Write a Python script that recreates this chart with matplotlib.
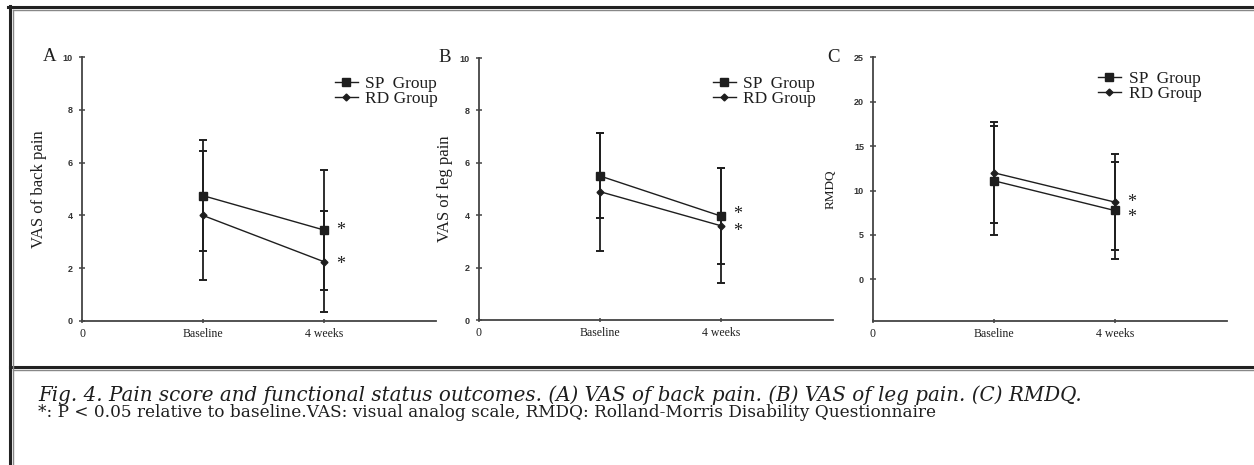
import matplotlib
matplotlib.use("Agg")
import matplotlib.pyplot as plt
from matplotlib.lines import Line2D

# time points
tick_labels = ["0", "Baseline", "4 weeks"]
time_x = [1, 2]

# A: VAS of back pain (mean, SD)
back_sp = [4.75, 3.45]
back_sp_sd = [2.1, 2.27]
back_rd = [4.0, 2.25]
back_rd_sd = [2.45, 1.9]

# B: VAS of leg pain
leg_sp = [5.5, 3.97]
leg_sp_sd = [1.62, 1.82]
leg_rd = [4.9, 3.6]
leg_rd_sd = [2.25, 2.2]

# C: RMDQ
rmdq_sp = [11.1, 7.75]
rmdq_sp_sd = [6.15, 5.5]
rmdq_rd = [12.0, 8.7]
rmdq_rd_sd = [5.7, 5.4]

panels = [
    ("A", "VAS of back pain", back_sp, back_sp_sd, back_rd, back_rd_sd),
    ("B", "VAS of leg pain", leg_sp, leg_sp_sd, leg_rd, leg_rd_sd),
    ("C", "RMDQ", rmdq_sp, rmdq_sp_sd, rmdq_rd, rmdq_rd_sd),
]

SERIF = ["Liberation Serif", "DejaVu Serif"]
INK = "#1e1e1e"
W, H = 1254, 465

fig = plt.figure(figsize=(12.54, 4.65), dpi=100)
fig.patch.set_facecolor("white")

# axes boxes in pixels: left, right, top, bottom
boxes = [(82, 436, 57, 321), (479, 833, 58, 320), (873, 1227, 57.3, 320.7)]
letter_pos = [(50, 56), (445, 58), (834, 57)]
ylabel_x = [-0.099, -0.074, -0.1025]
legend_anchor = [(0.715, 0.93), (0.661, 0.933), (0.636, 0.95)]
# vertical nudge (points) of the stars for SP / RD so they do not collide
star_nudge = [(1.5, 0), (3, -2), (-3, 1.5)]

for i, (letter, ylab, sp, sp_sd, rd, rd_sd) in enumerate(panels):
    l, r, t, b = boxes[i]
    ax = fig.add_axes([l / W, 1 - b / H, (r - l) / W, (b - t) / H])

    ax.errorbar(time_x, sp, yerr=sp_sd, color=INK, lw=1.0, marker="s", ms=6,
                elinewidth=1.3, capsize=3, capthick=1.4)
    ax.errorbar(time_x, rd, yerr=rd_sd, color=INK, lw=1.0, marker="D", ms=3.5,
                elinewidth=1.3, capsize=3, capthick=1.4)

    # significance stars next to the 4-week points
    for val, dy in zip((sp[1], rd[1]), star_nudge[i]):
        ax.annotate("*", xy=(time_x[1], val), xytext=(12, -2 + dy), textcoords="offset points",
                    ha="center", va="center", fontsize=13, family=SERIF, color=INK)

    ax.set_xlim(0, 2.93)
    if letter == "C":
        ax.set_ylim(-4.66, 25)
        ax.set_yticks([0, 5, 10, 15, 20, 25])
        ax.yaxis.set_label_coords(ylabel_x[i], 0.58)
        ylab_size = 9.5
    else:
        ax.set_ylim(0, 10)
        ax.set_yticks([0, 2, 4, 6, 8, 10])
        ax.yaxis.set_label_coords(ylabel_x[i], 0.5)
        ylab_size = 12
    ax.set_xticks([0, 1, 2])
    ax.set_xticklabels(tick_labels, family=SERIF, fontsize=8.5, color=INK)
    for lab in ax.get_yticklabels():
        lab.set_family("Liberation Sans")
        lab.set_fontweight("bold")
        lab.set_fontsize(6.5)
        lab.set_color("#333333")

    ax.set_ylabel(ylab, family=SERIF, fontsize=ylab_size, color=INK)

    for s in ("top", "right"):
        ax.spines[s].set_visible(False)
    for s in ("left", "bottom"):
        ax.spines[s].set_color("#444444")
        ax.spines[s].set_linewidth(1.3)
    ax.tick_params(axis="y", direction="inout", length=5, width=1.1, pad=4, color="#444444")
    ax.tick_params(axis="x", direction="inout", length=3, width=1.1, pad=3.5, color="#444444")

    handles = [Line2D([], [], color=INK, lw=1.0, marker="s", ms=6),
               Line2D([], [], color=INK, lw=1.0, marker="D", ms=3.5)]
    leg = ax.legend(handles, ["SP  Group", "RD Group"], loc="upper left",
                    bbox_to_anchor=legend_anchor[i], frameon=False,
                    prop={"family": SERIF, "size": 12.5}, handlelength=1.3,
                    handletextpad=0.45, labelspacing=-0.05, borderpad=0, borderaxespad=0)
    for txt in leg.get_texts():
        txt.set_color(INK)

    fig.text(letter_pos[i][0] / W, 1 - letter_pos[i][1] / H, letter, family=SERIF,
             fontsize=13.5, ha="center", va="center", color=INK)

# frame lines of the figure panel
def hline(y, x0, x1, lw, c):
    fig.add_artist(Line2D([x0 / W, x1 / W], [1 - y / H, 1 - y / H], lw=lw, color=c,
                          transform=fig.transFigure))

def vline(x, y0, y1, lw, c):
    fig.add_artist(Line2D([x / W, x / W], [1 - y0 / H, 1 - y1 / H], lw=lw, color=c,
                          transform=fig.transFigure))

hline(7, 8, W, 2.2, "#222222")
hline(10.5, 12.5, W, 1.0, "#888888")
hline(366.5, 10, W, 2.2, "#222222")
hline(369.5, 12.5, W, 1.0, "#888888")
vline(9.5, 6, H, 2.2, "#222222")
vline(13, 10, H, 1.0, "#888888")

# caption
cap1 = "Fig. 4. Pain score and functional status outcomes. (A) VAS of back pain. (B) VAS of leg pain. (C) RMDQ."
cap2 = "*: P < 0.05 relative to baseline.VAS: visual analog scale, RMDQ: Rolland-Morris Disability Questionnaire"
t1 = fig.text(38 / W, 1 - 395 / H, cap1, family=["DejaVu Serif"], style="italic",
              fontsize=12.5, va="center", ha="left", color=INK)
t2 = fig.text(38 / W, 1 - 412 / H, cap2, family=["DejaVu Serif"],
              fontsize=11, va="center", ha="left", color=INK)

# fit caption widths to the reference
renderer = fig.canvas.get_renderer()
for t, target in ((t1, 1044), (t2, 893)):
    w = t.get_window_extent(renderer).width
    t.set_fontsize(t.get_fontsize() * target / w)

fig.savefig("out.png", dpi=100)
